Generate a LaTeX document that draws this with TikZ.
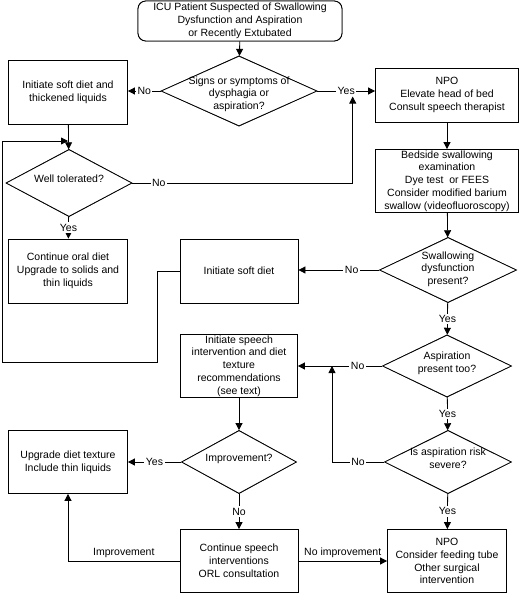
\documentclass[tikz,border=0pt]{standalone}
\usepackage{fontspec}
\setmainfont{Liberation Sans}
\usetikzlibrary{positioning, arrows.meta, shapes.geometric, backgrounds}
\newcommand{\dtext}[2][0pt]{\makebox[0pt]{\smash{\raisebox{#1}{\begin{tabular}{@{}c@{}}#2\end{tabular}}}}}

\begin{document}
\begin{tikzpicture}[x=1pt,y=1pt,line width=0.8pt,>={Triangle[length=7pt,width=7pt]},
  font=\fontsize{10.5}{12.8}\selectfont,
  box/.style={draw,rectangle,fill=white,align=center,inner sep=1pt},
  dec/.style={draw,diamond,fill=white,inner sep=0pt},
  lbl/.style={fill=white,inner sep=1.5pt}]
  \useasboundingbox (0,0) rectangle (532,-598);
  % boxes
  \node[box,rounded corners=8pt,minimum width=204pt,minimum height=40pt](start) at (240,-21)
       {ICU Patient Suspected of Swallowing\\Dysfunction and Aspiration\\or Recently Extubated};
  \node[box,minimum width=119pt,minimum height=64pt](soft1) at (68,-92)
       {Initiate soft diet and\\thickened liquids};
  \node[box,minimum width=143pt,minimum height=54pt](npo1) at (447,-95)
       {NPO\\Elevate head of bed\\Consult speech therapist};
  \node[box,minimum width=143pt,minimum height=63pt](bed) at (447,-181)
       {Bedside swallowing\\examination\\Dye test\ \ or FEES\\Consider modified barium\\swallow (videofluoroscopy)};
  \node[box,minimum width=119pt,minimum height=64pt](oral) at (68,-271)
       {Continue oral diet\\Upgrade to solids and\\thin liquids};
  \node[box,minimum width=118pt,minimum height=64pt](soft2) at (239,-271)
       {Initiate soft diet};
  \node[box,minimum width=117pt,minimum height=63pt](speech) at (239,-366)
       {Initiate speech\\intervention and diet\\texture\\recommendations\\(see text)};
  \node[box,minimum width=119pt,minimum height=63pt](upg) at (68,-462)
       {Upgrade diet texture\\Include thin liquids};
  \node[box,minimum width=118pt,minimum height=63pt](cont) at (239,-561)
       {Continue speech\\interventions\\ORL consultation};
  \node[box,minimum width=119pt,minimum height=63pt](npo2) at (447,-561)
       {NPO\\Consider feeding tube\\Other surgical\\intervention};
  % decisions
  \node[dec,minimum width=156pt,minimum height=70pt](signs) at (239,-91)
       {\dtext[-6pt]{Signs or symptoms of\\dysphagia or\\aspiration?}};
  \node[dec,minimum width=126pt,minimum height=67pt](wt) at (69,-183)
       {\dtext{Well tolerated?}};
  \node[dec,minimum width=137pt,minimum height=65pt](swd) at (448,-270)
       {\dtext[-2pt]{Swallowing\\dysfunction\\present?}};
  \node[dec,minimum width=129pt,minimum height=62pt](asp) at (447,-366)
       {\dtext{Aspiration\\present too?}};
  \node[dec,minimum width=127pt,minimum height=63pt](risk) at (448,-462)
       {\dtext{Is aspiration risk\\severe?}};
  \node[dec,minimum width=115pt,minimum height=63pt](imp) at (239,-462)
       {\dtext{Improvement?}};
  % shadows
  \begin{scope}[on background layer,shift={(3pt,-3pt)}]
    \fill[rounded corners=8pt](start.south west) rectangle (start.north east);
    \foreach \b in {soft1,npo1,bed,oral,soft2,speech,upg,cont,npo2}
      \fill(\b.south west) rectangle (\b.north east);
    \foreach \d in {signs,wt,swd,asp,risk,imp}
      \fill(\d.north)--(\d.east)--(\d.south)--(\d.west)--cycle;
  \end{scope}
  \coordinate (jn) at (332,-366);
  \coordinate (loopA) at (157,-362);
  \coordinate (loopB) at (2,-141);
  % connectors
  \draw[->](start)--(signs);
  \draw[->](signs.west)--node[lbl]{No}(signs.west -| soft1.east);
  \draw[->](signs.east)--node[lbl](y1){Yes}(signs.east -| npo1.west);
  \coordinate (jy) at ([xshift=-4pt]y1.south east);
  \draw[->](soft1)--(wt);
  \draw[->](wt.east)--node[lbl,pos=.12]{No}(wt.east -| jy)--(jy);
  \draw[->](wt)--node[lbl]{Yes}(oral);
  \draw[->](npo1)--(bed);
  \draw[->](bed)--(swd);
  \draw[->](swd.west)--node[lbl,pos=.34]{No}(swd.west -| soft2.east);
  \draw[->](soft2.west)-|(loopA)-|(loopB)--(loopB -| soft1.south);
  \draw[->](swd)--node[lbl]{Yes}(asp);
  \draw[->](asp.west)--node[lbl,pos=.29]{No}(asp.west -| speech.east);
  \draw[->](asp)--node[lbl]{Yes}(risk);
  \draw[->](risk.west)--node[lbl]{No}(risk.west -| jn)--(jn);
  \draw[->](speech)--(imp);
  \draw[->](imp.west)--node[lbl]{Yes}(upg.east);
  \draw[->](imp)--node[lbl]{No}(cont);
  \draw[->](risk)--node[lbl]{Yes}(npo2);
  \draw[->](cont.west)--node[above]{Improvement}(cont.west -| upg.south)--(upg.south);
  \draw[->](cont.east)--node[above]{No improvement}(cont.east -| npo2.west);
\end{tikzpicture}
\end{document}
